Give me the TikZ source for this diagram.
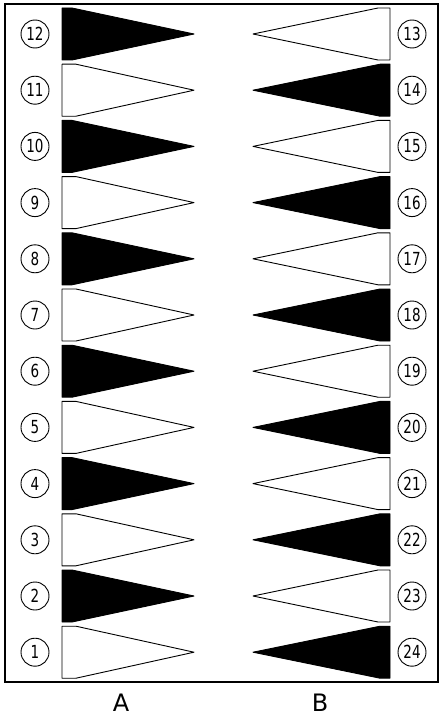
\documentclass[tikz,border=0pt]{standalone}
\usepackage{fontspec}
\setsansfont{DejaVu Sans}
\newfontfamily\numfont[FakeStretch=0.75]{DejaVu Sans}
\begin{document}
\begin{tikzpicture}[x=1pt,y=-1pt,
  numcirc/.style={draw,circle,line width=0.9pt,minimum size=28pt,inner sep=0pt,font=\numfont\fontsize{18}{18}\selectfont},
  pen/.style={draw,line width=0.9pt,line join=round},
  letter/.style={font=\sffamily\fontsize{24}{24}\selectfont}]
\useasboundingbox (0,0) rectangle (441,717);
\fill[white] (0,0) rectangle (441,717);
\draw[line width=1.6pt] (5,4) rectangle (438,682);
\foreach \i in {0,...,11}{
  \pgfmathsetmacro{\c}{34+\i*56.2}
  \pgfmathtruncatemacro{\ln}{12-\i}
  \pgfmathtruncatemacro{\rn}{13+\i}
  \pgfmathtruncatemacro{\odd}{mod(\i,2)}
  \ifnum\odd=0
    \filldraw[pen,fill=black] (62,\c-26) -- (72,\c-26) -- (194,\c) -- (72,\c+26) -- (62,\c+26) -- cycle;
    \draw[pen,fill=white] (390,\c-26) -- (378,\c-26) -- (253,\c) -- (378,\c+26) -- (390,\c+26) -- cycle;
  \else
    \draw[pen,fill=white] (62,\c-26) -- (76,\c-26) -- (194,\c) -- (76,\c+26) -- (62,\c+26) -- cycle;
    \filldraw[pen,fill=black] (390,\c-26) -- (380,\c-26) -- (253,\c) -- (380,\c+26) -- (390,\c+26) -- cycle;
  \fi
  \node[numcirc] (l\ln) at (35,\c) {\ln};
  \node[numcirc] (r\rn) at (412,\c) {\rn};
}
\node[letter] (A) at (121,703) {A};
\node[letter] (B) at (320,703) {B};
\end{tikzpicture}
\end{document}
